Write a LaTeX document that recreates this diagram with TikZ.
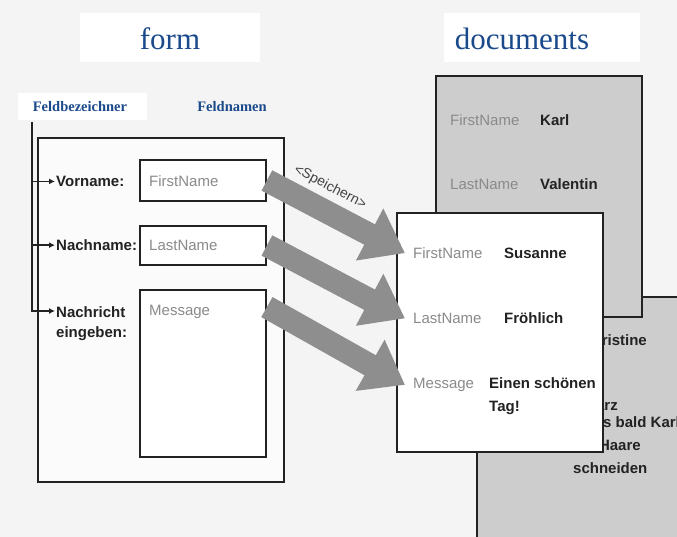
\documentclass[tikz,border=0pt]{standalone}
\usepackage{fontspec}
\setmainfont{Liberation Serif}
\setsansfont{Liberation Sans}
\usetikzlibrary{arrows.meta}
\definecolor{titleblue}{HTML}{1B4A8C}
\definecolor{fieldgrey}{HTML}{8A8A8A}
\definecolor{docgrey}{HTML}{CDCDCD}
\definecolor{scangrey}{HTML}{F4F4F4}
\definecolor{arrowgrey}{HTML}{8E8E8E}
\definecolor{inkblack}{HTML}{222222}
\tikzset{
  titletext/.style={anchor=base, font=\fontsize{31}{31}\selectfont, text=titleblue},
  headtext/.style={anchor=base, font=\bfseries\fontsize{14.5}{14.5}\selectfont, text=titleblue},
  formtext/.style={anchor=base west, inner sep=1pt, align=left,
    font=\sffamily\bfseries\fontsize{15}{20}\selectfont, text=inkblack},
  fieldname/.style={anchor=base west, inner sep=0pt,
    font=\sffamily\fontsize{15}{15}\selectfont, text=fieldgrey},
  fieldvalue/.style={anchor=base west, inner sep=0pt, align=left,
    font=\sffamily\bfseries\fontsize{15}{23}\selectfont, text=inkblack},
  formframe/.style={draw=inkblack, line width=2.4pt, inner sep=0pt},
  fieldbox/.style={draw=inkblack, line width=1.8pt, fill=white, inner sep=0pt, minimum width=126pt},
  docsheet/.style={draw=inkblack, line width=2.2pt, inner sep=0pt},
  pointer/.style={draw=inkblack, line width=1.6pt, -{Latex[length=6pt,width=6pt]}},
  savearrow/.style={draw=arrowgrey, line width=23pt, -{Triangle[length=40pt,width=56pt]}},
  speichern/.style={font=\sffamily\fontsize{14}{14}\selectfont, text=inkblack!85}
}
\begin{document}
\begin{tikzpicture}[x=1pt,y=-1pt]
  \path[clip] (0,0) rectangle (677,537);
  \fill[scangrey] (0,0) rectangle (677,537);

  \fill[white] (80,13) rectangle (260,62);
  \fill[white] (444,13) rectangle (640,62);
  \fill[white] (18,93) rectangle (147,120);
  \node[titletext] (formtitle) at (170,50) {form};
  \node[titletext] (doctitle)  at (522,50) {documents};
  \node[headtext]  (bezeichner) at (80,112) {Feldbezeichner};
  \node[headtext]  (feldnamen)  at (232,112) {Feldnamen};

  \node[formframe, fill=white!60!scangrey, minimum width=246pt, minimum height=344pt] (formbox) at (161,310) {};
  \node[fieldbox, minimum height=41pt]  (fieldfirst) at (203,180.5) {};
  \node[fieldbox, minimum height=39pt]  (fieldlast)  at (203,245.5) {};
  \node[fieldbox, minimum height=167pt] (fieldmsg)   at (203,373.5) {};

  \node[formtext] (vorname)   at (55,186.5) {Vorname:};
  \node[formtext] (nachname)  at (55,250.5) {Nachname:};
  \node[formtext] (nachricht) at (55,337.5) {Nachricht\\eingeben:};
  \node[fieldname] (namefirst) at (149,186.5) {FirstName};
  \node[fieldname] (namelast)  at (149,250.5) {LastName};
  \node[fieldname] (namemsg)   at (149,315.5) {Message};

  \coordinate (brtop)    at (32,122);
  \coordinate (brbottom) at (32,311);
  \draw[pointer] (brtop |- vorname.west)  -- (vorname.west);
  \draw[pointer] (brtop |- nachname.west) -- (nachname.west);
  \draw[pointer] (brtop) -- (brbottom) -- (brbottom -| nachricht.west);

  \node[docsheet, fill=docgrey, minimum width=223pt, minimum height=263pt] (docthree) at (588.5,428.5) {};
  \node[fieldvalue, anchor=base east] (christine) at (647,345.5) {Christine};
  \node[fieldvalue, anchor=base east] (schwarz)   at (618,410.5) {Schwarz};
  \node[fieldname] (threemsg) at (490,427.5) {Message};
  \node[fieldvalue] (threemsgval) at (573,473.5) {Muss bald Karl\\die Haare\\schneiden};

  \node[docsheet, fill=docgrey, minimum width=206pt, minimum height=241pt] (docone) at (539,196.5) {};
  \node[fieldname]  (onefirst)    at (450,125.5) {FirstName};
  \node[fieldvalue] (onefirstval) at (540,125.5) {Karl};
  \node[fieldname]  (onelast)     at (450,189.5) {LastName};
  \node[fieldvalue] (onelastval)  at (540,189.5) {Valentin};

  \node[docsheet, fill=white, minimum width=206pt, minimum height=239pt] (doctwo) at (500,332.5) {};
  \node[fieldname]  (docfirst)    at (413,258.5) {FirstName};
  \node[fieldvalue] (docfirstval) at (504,258.5) {Susanne};
  \node[fieldname]  (doclast)     at (413,323.5) {LastName};
  \node[fieldvalue] (doclastval)  at (504,323.5) {Fröhlich};
  \node[fieldname]  (docmsg)      at (413,388.5) {Message};
  \node[fieldvalue] (docmsgval)   at (489,411.5) {Einen schönen\\Tag!};

  \draw[savearrow] (fieldfirst.east) -- ([xshift=-8pt]docfirst.west)
    node[speichern, pos=.38, sloped, above=2pt] (save) {<Speichern>};
  \draw[savearrow] (fieldlast.east) -- ([xshift=-8pt]doclast.west);
  \draw[savearrow] ([yshift=-18pt]fieldmsg.north east) -- ([xshift=-8pt]docmsg.west);
\end{tikzpicture}
\end{document}
